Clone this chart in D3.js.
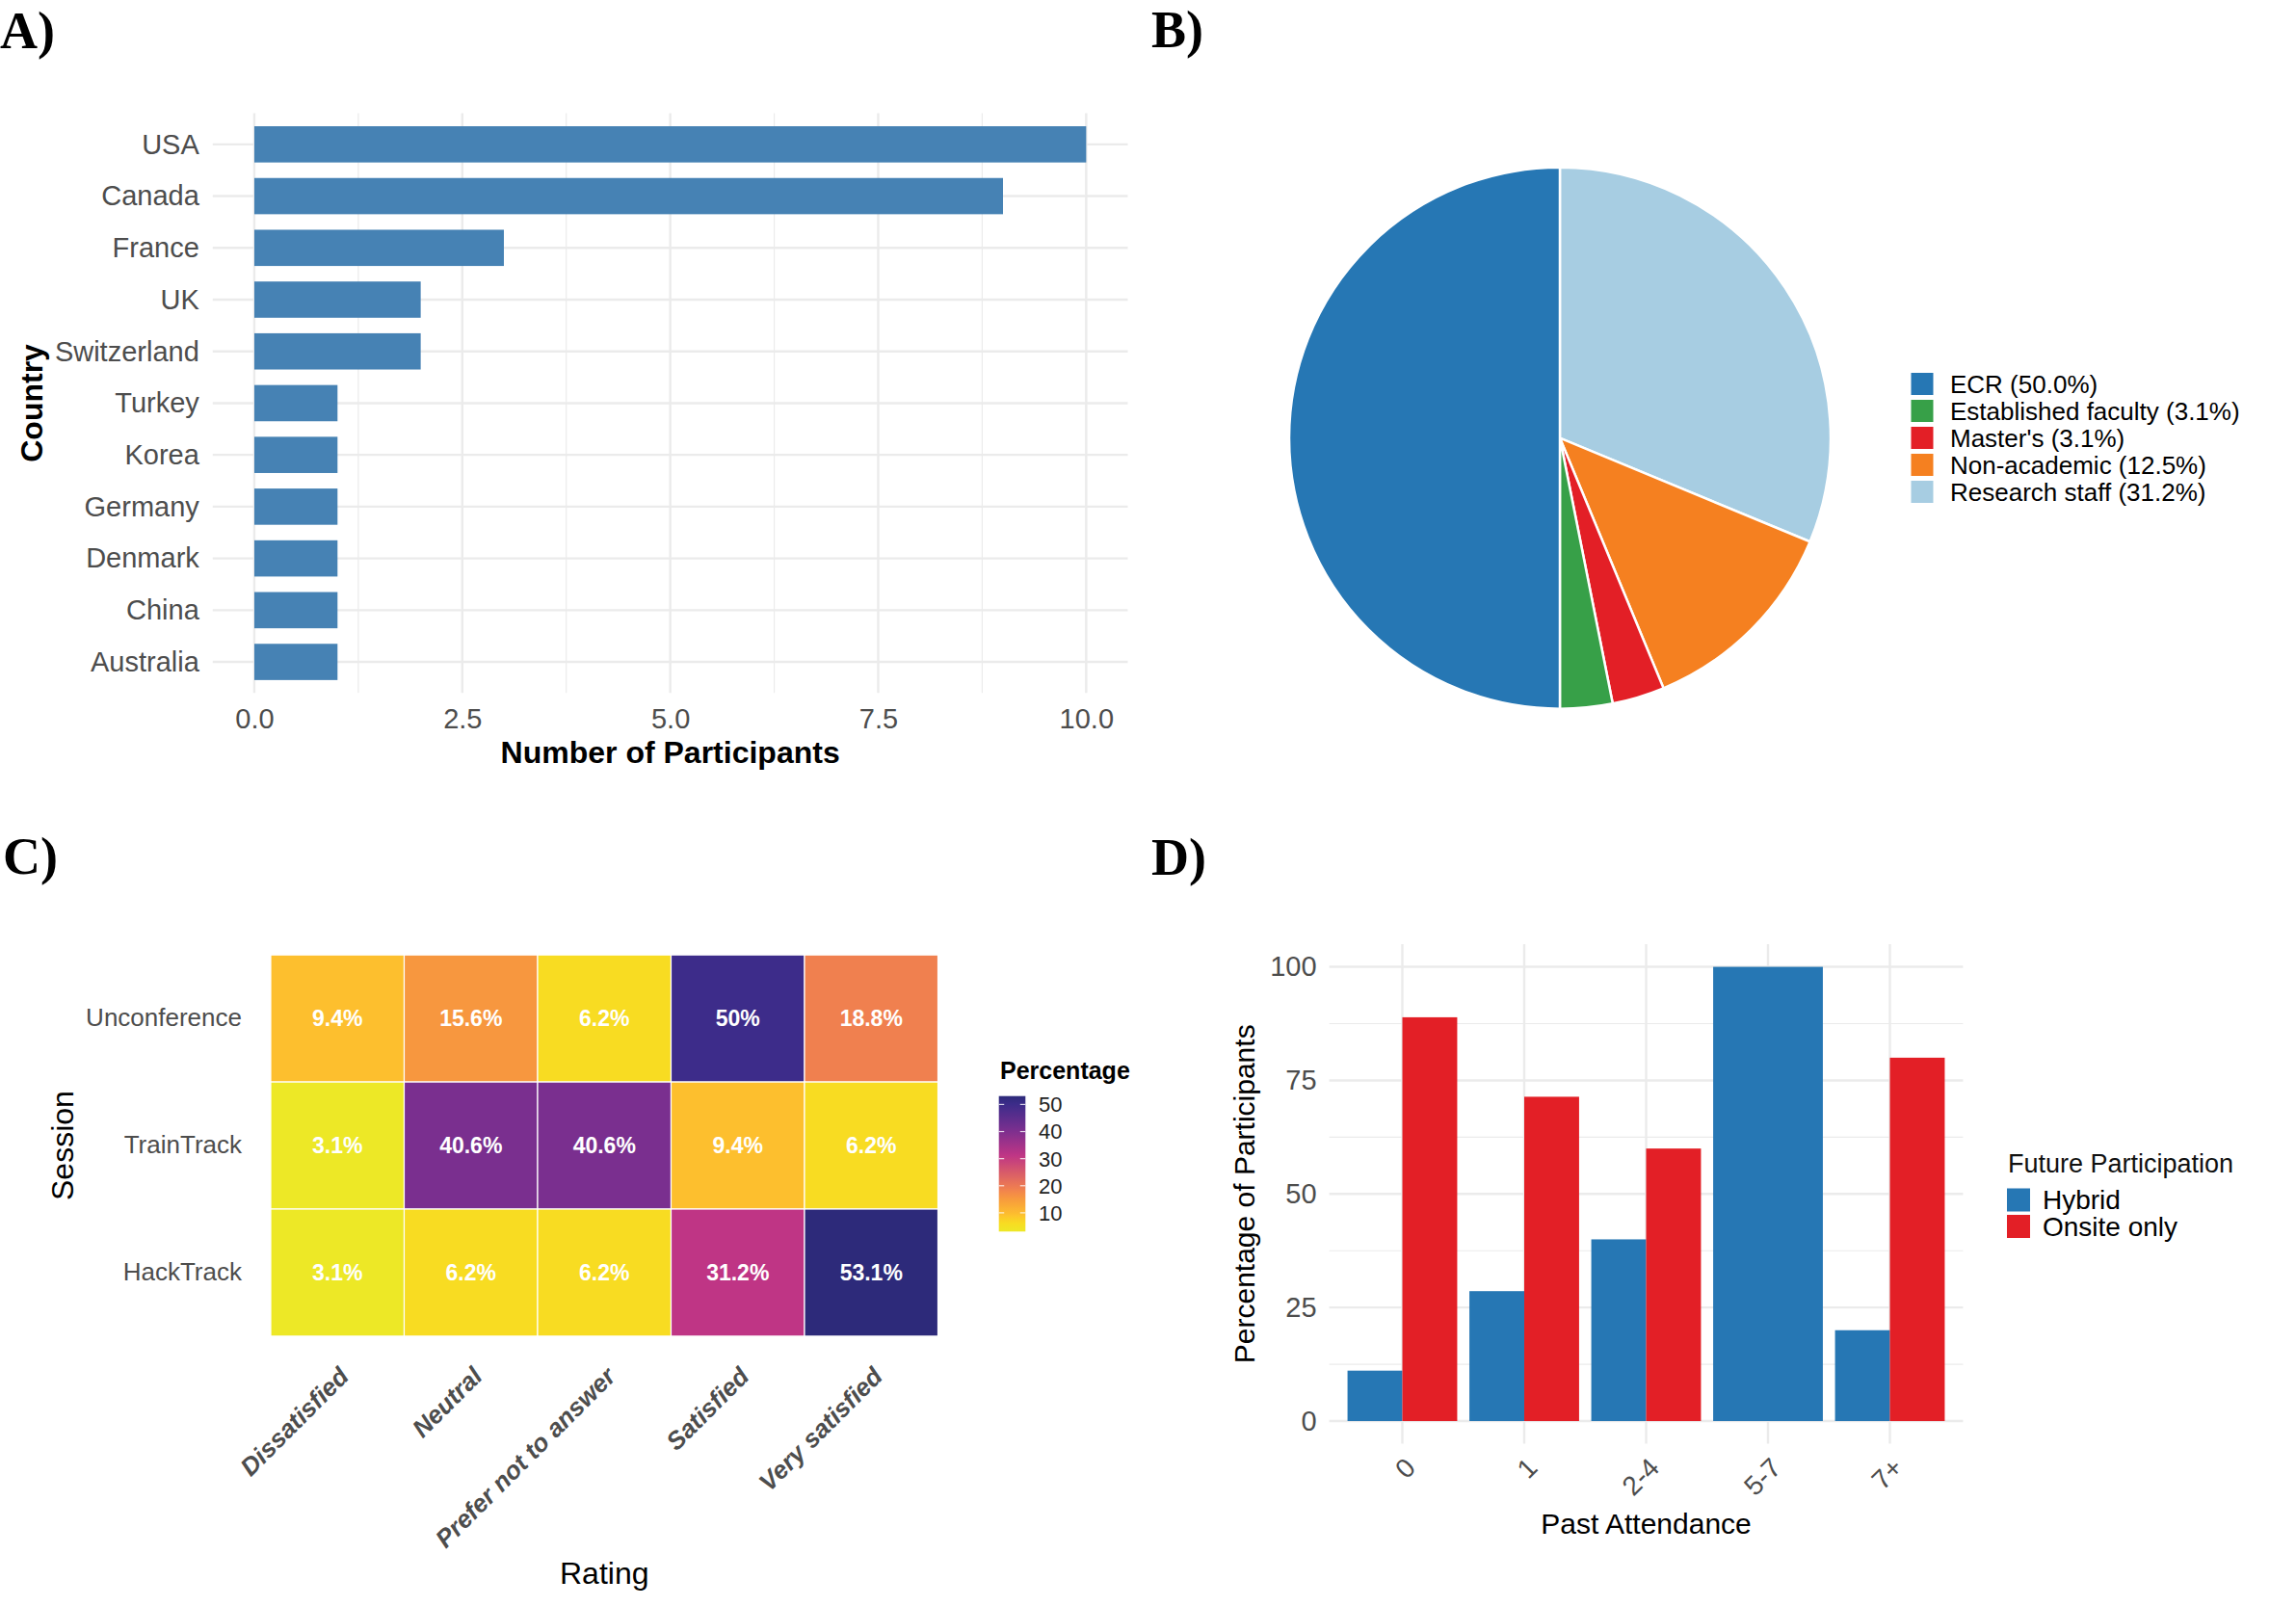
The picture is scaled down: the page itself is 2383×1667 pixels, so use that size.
<!DOCTYPE html>
<html><head><meta charset="utf-8">
<script src="https://cdn.jsdelivr.net/npm/d3@7"></script>
<style>body{margin:0;background:#fff}</style>
</head><body>
<svg id="c" width="2383" height="1667"></svg>
<script>
// ---------------- DATA ----------------
const countries = ["USA","Canada","France","UK","Switzerland","Turkey","Korea","Germany","Denmark","China","Australia"];
const countryCounts = [10,9,3,2,2,1,1,1,1,1,1];
const countryTicks = [0,2.5,5,7.5,10];

const roles = ["ECR","Established faculty","Master's","Non-academic","Research staff"];
const roleCounts = [16,1,1,4,10];
const roleLabels = ["ECR (50.0%)","Established faculty (3.1%)","Master's (3.1%)","Non-academic (12.5%)","Research staff (31.2%)"];

const sessions = ["Unconference","TrainTrack","HackTrack"];
const ratings = ["Dissatisfied","Neutral","Prefer not to answer","Satisfied","Very satisfied"];
const unconferencePct = [9.4,15.6,6.2,50,18.8];
const trainTrackPct = [3.1,40.6,40.6,9.4,6.2];
const hackTrackPct = [3.1,6.2,6.2,31.2,53.1];
const pctLegendTicks = [10,20,30,40,50];

const attendance = ["0","1","2-4","5-7","7+"];
const participation = ["Hybrid","Onsite only"];
const hybridPct = [11.1,28.6,40,100,20];
const onsitePct = [88.9,71.4,60,null,80];
const pctAxisTicks = [0,25,50,75,100];

// ---------------- STYLE ----------------
const SANS = "'Liberation Sans', Arial, Helvetica, sans-serif";
const SERIF = "'Liberation Serif', 'Times New Roman', serif";
const GRID = "#EBEBEB";
const AXTXT = "#4D4D4D";
const roleColors = ["#2677B4","#37A048","#E31F26","#F58020","#A7CDE2"];
const partColors = ["#2677B4","#E31F26"];
const rampStops = [0,0.062,0.126,0.25,0.314,0.562,0.75,0.938,1];
const rampColors = ["#EDE826","#F8DC22","#FDBF2E","#F7973F","#F0804F","#BF3585","#7A2F8F","#3D2C8A","#2D2A7A"];

const svg = d3.select("#c");
svg.append("rect").attr("width",2383).attr("height",1667).attr("fill","#fff");

function txt(g, s, x, y, o={}) {
  const t = g.append("text").attr("x",x).attr("y",y).text(s)
    .attr("font-family", o.family || SANS)
    .attr("font-size", o.size || 29)
    .attr("fill", o.fill || "#000");
  if (o.weight) t.attr("font-weight", o.weight);
  if (o.style) t.attr("font-style", o.style);
  if (o.anchor) t.attr("text-anchor", o.anchor);
  if (o.dy) t.attr("dy", o.dy);
  if (o.transform) t.attr("transform", o.transform).attr("x",0).attr("y",0);
  return t;
}
function panelLabel(s,x,y){ txt(svg,s,x,y,{family:SERIF,weight:"bold",size:54}); }

// ---------------- PANEL A ----------------
panelLabel("A)",0,50);
(function(){
  const A = {l:220.8, r:1170.5, t:117.6, b:719.3};
  const x = d3.scaleLinear().domain([-0.5,10.5]).range([A.l,A.r]);
  const y = d3.scalePoint().domain(countries).range([A.t,A.b]).padding(0.6);
  const g = svg.append("g");
  const minor = countryTicks.slice(1).map((v,i)=>(v+countryTicks[i])/2);
  g.selectAll("line.mn").data(minor).join("line").attr("class","mn")
    .attr("x1",d=>x(d)).attr("x2",d=>x(d)).attr("y1",A.t).attr("y2",A.b)
    .attr("stroke",GRID).attr("stroke-width",1.2);
  g.selectAll("line.mj").data(countryTicks).join("line").attr("class","mj")
    .attr("x1",d=>x(d)).attr("x2",d=>x(d)).attr("y1",A.t).attr("y2",A.b)
    .attr("stroke",GRID).attr("stroke-width",2.4);
  g.selectAll("line.hz").data(countries).join("line").attr("class","hz")
    .attr("x1",A.l).attr("x2",A.r).attr("y1",d=>y(d)).attr("y2",d=>y(d))
    .attr("stroke",GRID).attr("stroke-width",2.4);
  const bh = y.step()*0.7;
  g.selectAll("rect.bar").data(countries).join("rect").attr("class","bar")
    .attr("x",x(0)).attr("y",d=>y(d)-bh/2).attr("height",bh)
    .attr("width",(d,i)=>x(countryCounts[i])-x(0)).attr("fill","#4682B4");
  const ax = g.append("g").attr("transform",`translate(0,${A.b})`)
    .call(d3.axisBottom(x).tickValues(countryTicks).tickFormat(d3.format(".1f")).tickSize(0).tickPadding(16));
  ax.select(".domain").remove();
  ax.attr("font-family",SANS).attr("font-size",29);
  ax.selectAll("text").attr("fill",AXTXT);
  const ay = g.append("g").attr("transform",`translate(${A.l},0)`)
    .call(d3.axisLeft(y).tickSize(0).tickPadding(14));
  ay.select(".domain").remove();
  ay.attr("font-family",SANS).attr("font-size",29);
  ay.selectAll("text").attr("fill",AXTXT);
  txt(g,"Number of Participants",(A.l+A.r)/2,792,{anchor:"middle",weight:"bold",size:32});
  txt(g,"Country",0,0,{anchor:"middle",weight:"bold",size:32,transform:`translate(44,${(A.t+A.b)/2}) rotate(-90)`});
})();

// ---------------- PANEL B ----------------
panelLabel("B)",1195,49);
(function(){
  const cx = 1619, cy = 454.7, R = 281;
  const g = svg.append("g").attr("transform",`translate(${cx},${cy})`);
  const items = roles.map((r,i)=>({r, v:roleCounts[i], c:roleColors[i]}));
  const arcs = d3.pie().sort(null).value(d=>d.v)(items.slice().reverse());
  const arc = d3.arc().innerRadius(0).outerRadius(R);
  g.selectAll("path").data(arcs).join("path").attr("d",arc)
    .attr("fill",d=>d.data.c).attr("stroke","#fff").attr("stroke-width",2.5);
  const lg = svg.append("g");
  const y0 = 398.5, pitch = 28;
  items.forEach((d,i)=>{
    lg.append("rect").attr("x",1983.5).attr("y",y0+i*pitch-11.5).attr("width",23).attr("height",23).attr("fill",d.c);
    txt(lg, roleLabels[i], 2024, y0+i*pitch, {size:26, dy:"0.35em"});
  });
})();

// ---------------- PANEL C ----------------
panelLabel("C)",3,907);
(function(){
  const C = {l:281, r:973.5, t:991.2, b:1386.9};
  const x = d3.scaleBand().domain(ratings).range([C.l,C.r]);
  const y = d3.scaleBand().domain(sessions).range([C.t,C.b]);
  const rows = [unconferencePct, trainTrackPct, hackTrackPct];
  const cells = sessions.flatMap((s,i)=>rows[i].map((v,j)=>({s, r:ratings[j], v})));
  const ext = d3.extent(cells,d=>d.v);
  const color = d3.scaleLinear().domain(rampStops.map(t=>ext[0]+t*(ext[1]-ext[0]))).range(rampColors).interpolate(d3.interpolateRgb);
  const g = svg.append("g");
  g.selectAll("rect.cell").data(cells).join("rect").attr("class","cell")
    .attr("x",d=>x(d.r)).attr("y",d=>y(d.s)).attr("width",x.bandwidth()).attr("height",y.bandwidth())
    .attr("fill",d=>color(d.v)).attr("stroke","#fff").attr("stroke-width",1.2);
  g.selectAll("text.cl").data(cells).join("text").attr("class","cl")
    .attr("x",d=>x(d.r)+x.bandwidth()/2).attr("y",d=>y(d.s)+y.bandwidth()/2).attr("dy","0.36em")
    .attr("text-anchor","middle").attr("font-family",SANS).attr("font-weight","bold").attr("font-size",23)
    .attr("fill","#fff").text(d=>d.v+"%");
  const ay = g.append("g").attr("transform",`translate(${C.l},0)`)
    .call(d3.axisLeft(y).tickSize(0).tickPadding(30));
  ay.select(".domain").remove();
  ay.attr("font-family",SANS).attr("font-size",26);
  ay.selectAll("text").attr("fill",AXTXT);
  ratings.forEach(r=>{
    const ax = x(r)+x.bandwidth()/2;
    txt(g, r, 0, 0, {anchor:"end", weight:"bold", style:"italic", size:26, fill:AXTXT, dy:"0.72em",
      transform:`translate(${ax},1417) rotate(-45)`});
  });
  txt(g,"Rating",(C.l+C.r)/2,1644,{anchor:"middle",size:32});
  txt(g,"Session",0,0,{anchor:"middle",size:32,transform:`translate(76,${(C.t+C.b)/2}) rotate(-90)`});
  // colour bar legend
  const bar = {l:1036.7, r:1064.3, t:1137.7, b:1278.3};
  const ys = d3.scaleLinear().domain(ext).range([bar.b,bar.t]);
  const defs = svg.append("defs");
  const grad = defs.append("linearGradient").attr("id","pctGrad").attr("x1",0).attr("y1",1).attr("x2",0).attr("y2",0);
  d3.range(0,1.0001,0.02).forEach(t=>{
    grad.append("stop").attr("offset",t).attr("stop-color",color(ext[0]+t*(ext[1]-ext[0])));
  });
  g.append("rect").attr("x",bar.l).attr("y",bar.t).attr("width",bar.r-bar.l).attr("height",bar.b-bar.t).attr("fill","url(#pctGrad)");
  const tw = (bar.r-bar.l)/5;
  pctLegendTicks.forEach(v=>{
    const yy = ys(v);
    g.append("line").attr("x1",bar.l).attr("x2",bar.l+tw).attr("y1",yy).attr("y2",yy).attr("stroke","#fff").attr("stroke-width",1.2).attr("opacity",0.8);
    g.append("line").attr("x1",bar.r-tw).attr("x2",bar.r).attr("y1",yy).attr("y2",yy).attr("stroke","#fff").attr("stroke-width",1.2).attr("opacity",0.8);
    txt(g, String(v), 1078, yy, {size:22, dy:"0.36em", fill:"#222"});
  });
  txt(g,"Percentage",1038,1120,{weight:"bold",size:25});
})();

// ---------------- PANEL D ----------------
panelLabel("D)",1195,908);
(function(){
  const D = {l:1379.6, r:2037.4, t:980, b:1498.6};
  const x = d3.scalePoint().domain(attendance).range([D.l,D.r]).padding(0.6);
  const y = d3.scaleLinear().domain([-5,105]).range([D.b,D.t]);
  const g = svg.append("g");
  const minor = pctAxisTicks.slice(1).map((v,i)=>(v+pctAxisTicks[i])/2);
  g.selectAll("line.mn").data(minor).join("line").attr("class","mn")
    .attr("x1",D.l).attr("x2",D.r).attr("y1",d=>y(d)).attr("y2",d=>y(d))
    .attr("stroke",GRID).attr("stroke-width",1.2);
  g.selectAll("line.mj").data(pctAxisTicks).join("line").attr("class","mj")
    .attr("x1",D.l).attr("x2",D.r).attr("y1",d=>y(d)).attr("y2",d=>y(d))
    .attr("stroke",GRID).attr("stroke-width",2.4);
  g.selectAll("line.vt").data(attendance).join("line").attr("class","vt")
    .attr("x1",d=>x(d)).attr("x2",d=>x(d)).attr("y1",D.t).attr("y2",D.b)
    .attr("stroke",GRID).attr("stroke-width",2.4);
  const W = x.step()*0.9;
  attendance.forEach((a,i)=>{
    const grp = [{k:0,v:hybridPct[i]},{k:1,v:onsitePct[i]}].filter(d=>d.v!=null);
    const w = W/grp.length;
    grp.forEach((d,j)=>{
      g.append("rect").attr("x",x(a)-W/2+j*w).attr("width",w)
        .attr("y",y(d.v)).attr("height",y(0)-y(d.v)).attr("fill",partColors[d.k]);
    });
  });
  const ay = g.append("g").attr("transform",`translate(${D.l},0)`)
    .call(d3.axisLeft(y).tickValues(pctAxisTicks).tickSize(0).tickPadding(13));
  ay.select(".domain").remove();
  ay.attr("font-family",SANS).attr("font-size",29);
  ay.selectAll("text").attr("fill",AXTXT);
  attendance.forEach(a=>{
    txt(g, a, 0, 0, {anchor:"end", size:28, fill:AXTXT, dy:"0.72em",
      transform:`translate(${x(a)+1},1511) rotate(-45)`});
  });
  txt(g,"Past Attendance",(D.l+D.r)/2,1592,{anchor:"middle",size:30});
  txt(g,"Percentage of Participants",0,0,{anchor:"middle",size:30,transform:`translate(1302,${(D.t+D.b)/2}) rotate(-90)`});
  // legend
  txt(g,"Future Participation",2084,1216.7,{size:27,fill:"#111"});
  participation.forEach((p,i)=>{
    const cy = 1245.5 + i*27.5;
    g.append("rect").attr("x",2083).attr("y",cy-12).attr("width",24).attr("height",24).attr("fill",partColors[i]);
    txt(g,p,2120,cy+9.5,{size:28});
  });
})();
</script>
</body></html>
